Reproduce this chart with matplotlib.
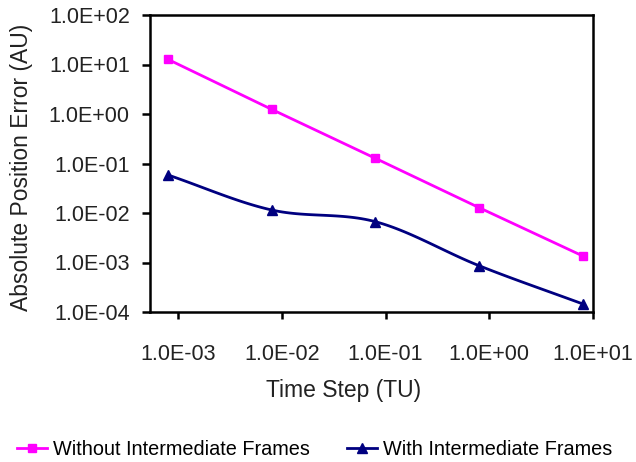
import numpy as np
import matplotlib
matplotlib.use('Agg')
import matplotlib.pyplot as plt
from matplotlib.ticker import FixedLocator, FuncFormatter, NullLocator

plt.rcParams['font.family'] = ['Liberation Sans', 'DejaVu Sans']

# values
time_step = [8e-4, 8e-3, 8e-2, 0.8, 8.0]
err_without = [12.7, 1.24, 0.127, 0.0128, 0.00135]
err_with = [0.0586, 0.0115, 0.00667, 0.00086, 0.000145]

x_ticks = [1e-3, 1e-2, 1e-1, 1e0, 1e1]
y_ticks = [1e-4, 1e-3, 1e-2, 1e-1, 1e0, 1e1, 1e2]

PINK = '#FF00FF'
NAVY = '#000080'
TXT = '#222222'


def smooth_loglog(x, y, n=30):
    """Catmull-Rom curve through the points in log-log space (like Excel's smoothed line)."""
    lx, ly = np.log10(x), np.log10(y)
    px = np.concatenate([[2*lx[0] - lx[1]], lx, [2*lx[-1] - lx[-2]]])
    py = np.concatenate([[2*ly[0] - ly[1]], ly, [2*ly[-1] - ly[-2]]])
    xs, ys = [], []
    t = np.linspace(0, 1, n)
    for i in range(1, len(px) - 2):
        for p, out in ((px, xs), (py, ys)):
            p0, p1, p2, p3 = p[i-1], p[i], p[i+1], p[i+2]
            out.append(0.5 * (2*p1 + (-p0 + p2)*t + (2*p0 - 5*p1 + 4*p2 - p3)*t**2
                              + (-p0 + 3*p1 - 3*p2 + p3)*t**3))
    return 10**np.concatenate(xs), 10**np.concatenate(ys)


fig = plt.figure(figsize=(6.36, 4.62), dpi=100)
ax = fig.add_axes([150/636, 1 - 312/462, 443/636, 297/462])

ax.plot(time_step, err_without, color=PINK, lw=2, marker='s', ms=6,
        label='Without Intermediate Frames')
sx, sy = smooth_loglog(time_step, err_with)
ax.plot(sx, sy, color=NAVY, lw=2)
ax.plot(time_step, err_with, color=NAVY, lw=0, marker='^', ms=7)
# legend handle for the smoothed series
ax.plot([], [], color=NAVY, lw=2, marker='^', ms=7, label='With Intermediate Frames')

ax.set_xscale('log')
ax.set_yscale('log')
ax.set_xlim(10**-3.27, 10**1.0)
ax.set_ylim(1e-4, 1e2)

fmt = FuncFormatter(lambda v, pos: f'{v:.1E}')
ax.xaxis.set_major_locator(FixedLocator(x_ticks))
ax.yaxis.set_major_locator(FixedLocator(y_ticks))
ax.xaxis.set_minor_locator(NullLocator())
ax.yaxis.set_minor_locator(NullLocator())
ax.xaxis.set_major_formatter(fmt)
ax.yaxis.set_major_formatter(fmt)

for sp in ax.spines.values():
    sp.set_linewidth(1.8)
    sp.set_color('black')
ax.tick_params(axis='both', direction='out', width=1.8, labelsize=15.5,
               colors='black', labelcolor=TXT)
ax.tick_params(axis='x', length=5, pad=18)
ax.tick_params(axis='y', length=6, pad=8.5)

ax.set_xlabel('Time Step (TU)', fontsize=16.5, color=TXT)
ax.set_ylabel('Absolute Position Error (AU)', fontsize=16.5, color=TXT)
ax.xaxis.set_label_coords(0.436, -0.225)
ax.yaxis.set_label_coords(-0.264, 0.487)

fig.legend(loc='lower left', bbox_to_anchor=(14/636, 0.0), ncol=2, frameon=False,
           fontsize=14.3, handlelength=1.5, columnspacing=1.9, handletextpad=0.3,
           borderaxespad=0.0, borderpad=0.15)

fig.savefig('out.png', dpi=100)
